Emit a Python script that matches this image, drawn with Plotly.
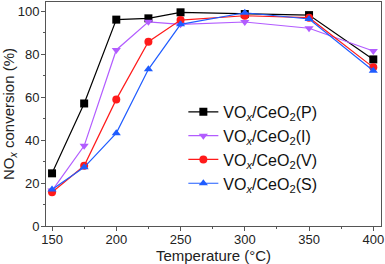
import plotly.graph_objects as go

temps = [150, 175, 200, 225, 250, 300, 350, 400]
conv_P = [24.5, 57, 96, 96.6, 99.4, 98.6, 98.1, 77.5]
conv_I = [16.5, 37.3, 81.9, 95, 93.8, 94.9, 92, 81.4]
conv_V = [15.7, 28, 58.9, 85.7, 95.8, 97.8, 96.9, 73.8]
conv_S = [17, 27.3, 43.2, 72.9, 93.8, 99.2, 96.3, 72.2]

series = [
    ("VO<sub><i>x</i></sub>/CeO<sub>2</sub>(P)", conv_P, "#000000", "square"),
    ("VO<sub><i>x</i></sub>/CeO<sub>2</sub>(I)", conv_I, "#b25cff", "triangle-down"),
    ("VO<sub><i>x</i></sub>/CeO<sub>2</sub>(V)", conv_V, "#ff1a1a", "circle"),
    ("VO<sub><i>x</i></sub>/CeO<sub>2</sub>(S)", conv_S, "#1f5cff", "triangle-up"),
]

fig = go.Figure()
for name, y, c, sym in series:
    fig.add_trace(go.Scatter(x=temps, y=y, name=name, mode="lines+markers",
                             line=dict(color=c, width=1.2),
                             marker=dict(symbol=sym, size=8, color=c)))

FONT = "Arial, Liberation Sans"
axis_common = dict(showline=True, linecolor="#555", linewidth=1, mirror=True,
                   ticks="outside", ticklen=4, tickcolor="#555",
                   showgrid=False, zeroline=False, automargin=False,
                   tickfont=dict(family=FONT, size=13, color="#222"))

fig.update_xaxes(range=[145.3, 406], tickvals=[150, 200, 250, 300, 350, 400],
                 minor=dict(tickvals=[175, 225, 275, 325, 375], ticks="outside", ticklen=2, tickcolor="#555"),
                 ticklabelstandoff=-3,
                 title=dict(text="Temperature (°C)", standoff=2,
                            font=dict(family=FONT, size=15, color="#222")),
                 **axis_common)
fig.update_yaxes(range=[0, 104.2], tickvals=[0, 20, 40, 60, 80, 100],
                 minor=dict(tickvals=[10, 30, 50, 70, 90], ticks="outside", ticklen=2, tickcolor="#555"),
                 ticklabelstandoff=-1,
                 title=dict(text="NO<sub><i>x</i></sub> conversion (%)", standoff=2,
                            font=dict(family=FONT, size=15, color="#222")),
                 **axis_common)

fig.update_layout(
    width=385, height=264,
    margin=dict(l=46, r=4, t=2, b=38),
    plot_bgcolor="white", paper_bgcolor="white",
    legend=dict(x=0.41, y=0.585, xanchor="left", yanchor="top",
                bgcolor="rgba(0,0,0,0)", tracegroupgap=0,
                font=dict(family=FONT, size=16, color="#111")),
)

fig.write_html("out.html", config={"displayModeBar": False},
               post_script="document.body.style.margin='0';document.body.style.padding='0';")
